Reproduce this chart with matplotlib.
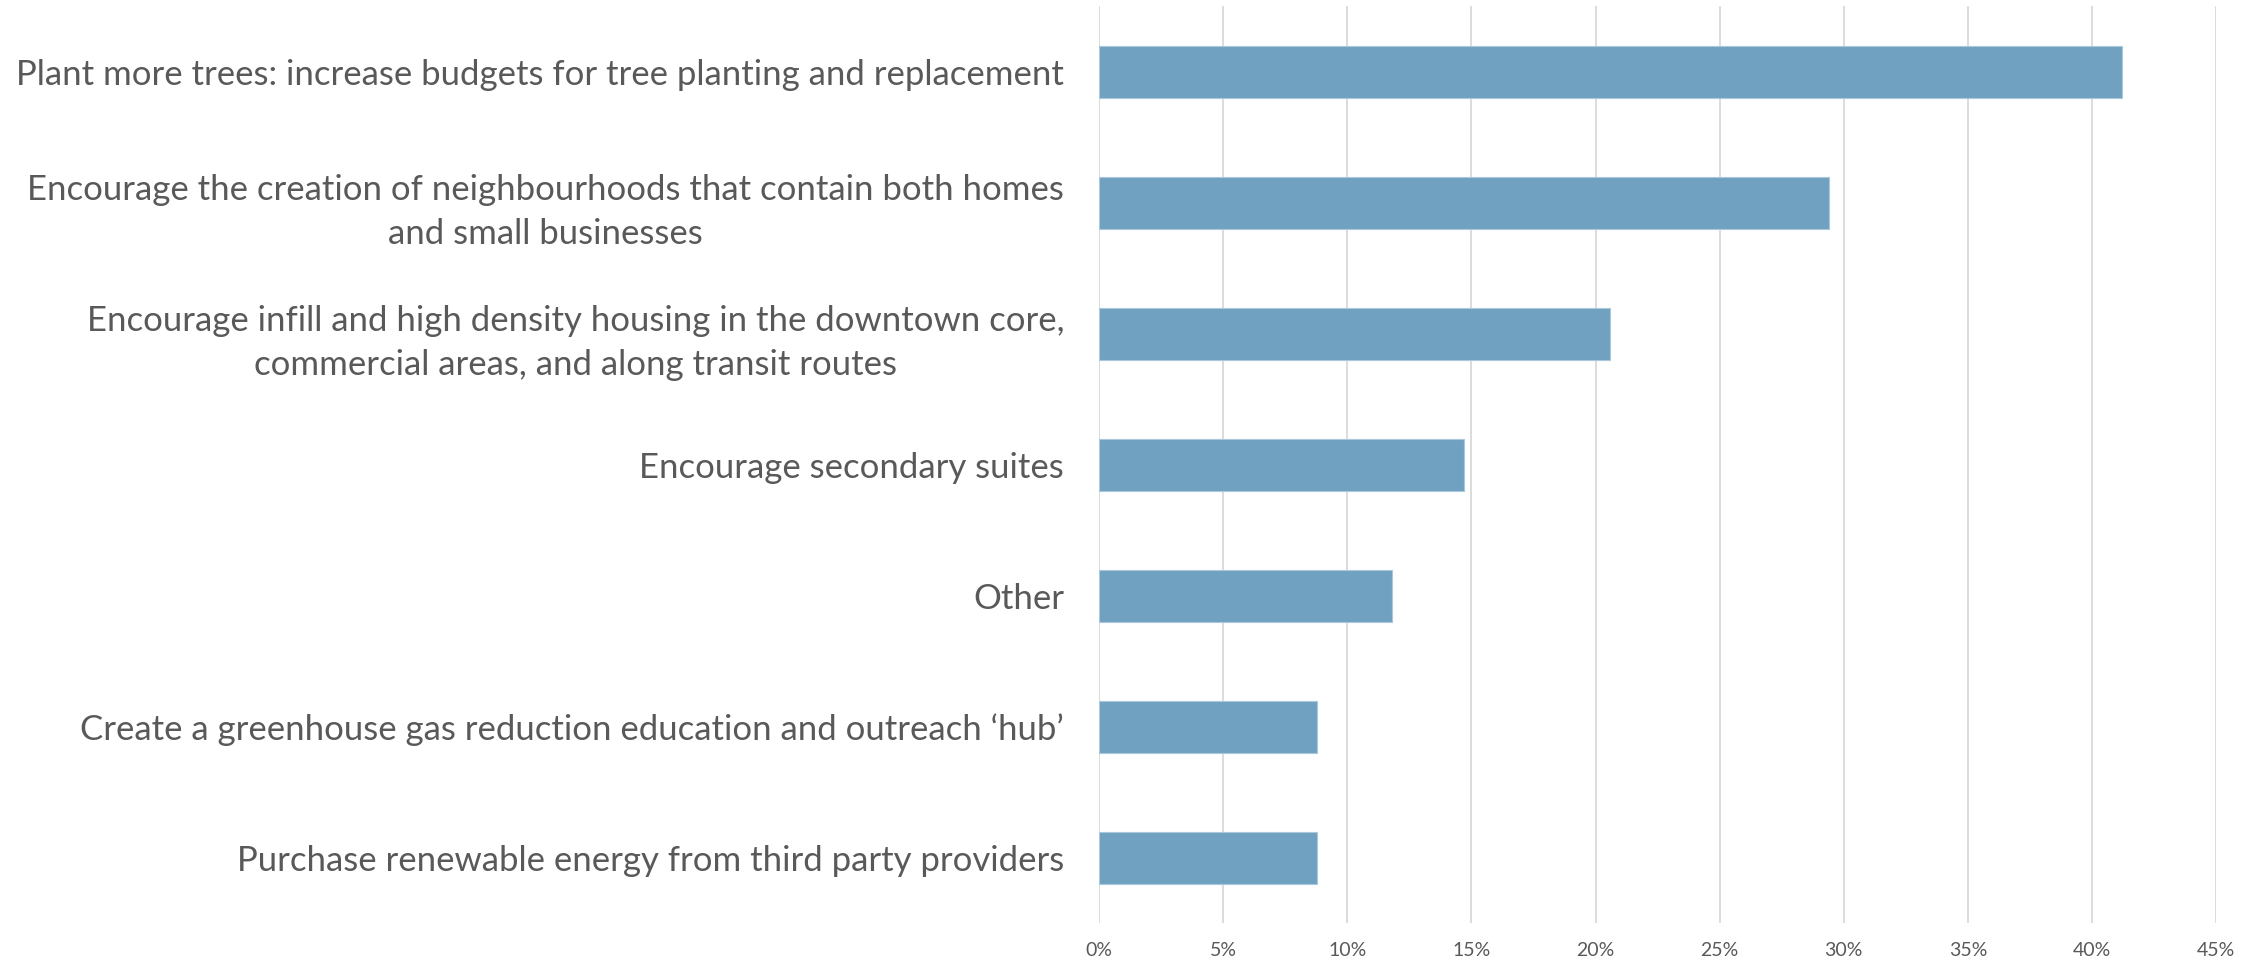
import matplotlib.pyplot as plt
import numpy as np

# share of responses per action, top to bottom
actions = [
    "Plant more trees: increase budgets for tree planting and replacement",
    "Encourage the creation of neighbourhoods that contain both homes\nand small businesses",
    "Encourage infill and high density housing in the downtown core,\ncommercial areas, and along transit routes",
    "Encourage secondary suites",
    "Other",
    "Create a greenhouse gas reduction education and outreach \u2018hub\u2019",
    "Purchase renewable energy from third party providers",
]
share = [41.2, 29.4, 20.6, 14.7, 11.8, 8.8, 8.8]
xticks = [0, 5, 10, 15, 20, 25, 30, 35, 40, 45]

plt.rcParams['font.family'] = ['Lato', 'DejaVu Sans']

fig = plt.figure(figsize=(22.64, 9.66), dpi=100)
ax = fig.add_axes([0.4854, 0.044, 0.4935, 0.9493])

y = np.arange(len(actions))
ax.barh(y, share, height=0.4, color='#70a1c0', edgecolor='#a9c8dc', linewidth=0.8, zorder=3)

ax.set_ylim(len(actions) - 0.5, -0.5)
ax.set_xlim(0, 45)
ax.set_xticks(xticks)
ax.set_xticklabels([f"{t}%" for t in xticks])
ax.set_yticks(y)
ax.set_yticklabels(actions, linespacing=1.45)
for lbl in ax.get_yticklabels():
    lbl.set_multialignment('center')

ax.tick_params(axis='y', length=0, pad=25, labelsize=25, labelcolor='#595959')
ax.tick_params(axis='x', length=0, pad=13, labelsize=14, labelcolor='#595959')
ax.xaxis.grid(True, color='#d9d9d9', linewidth=1.3, zorder=0)
for s in ax.spines.values():
    s.set_visible(False)

fig.savefig('out.png', dpi=100)
